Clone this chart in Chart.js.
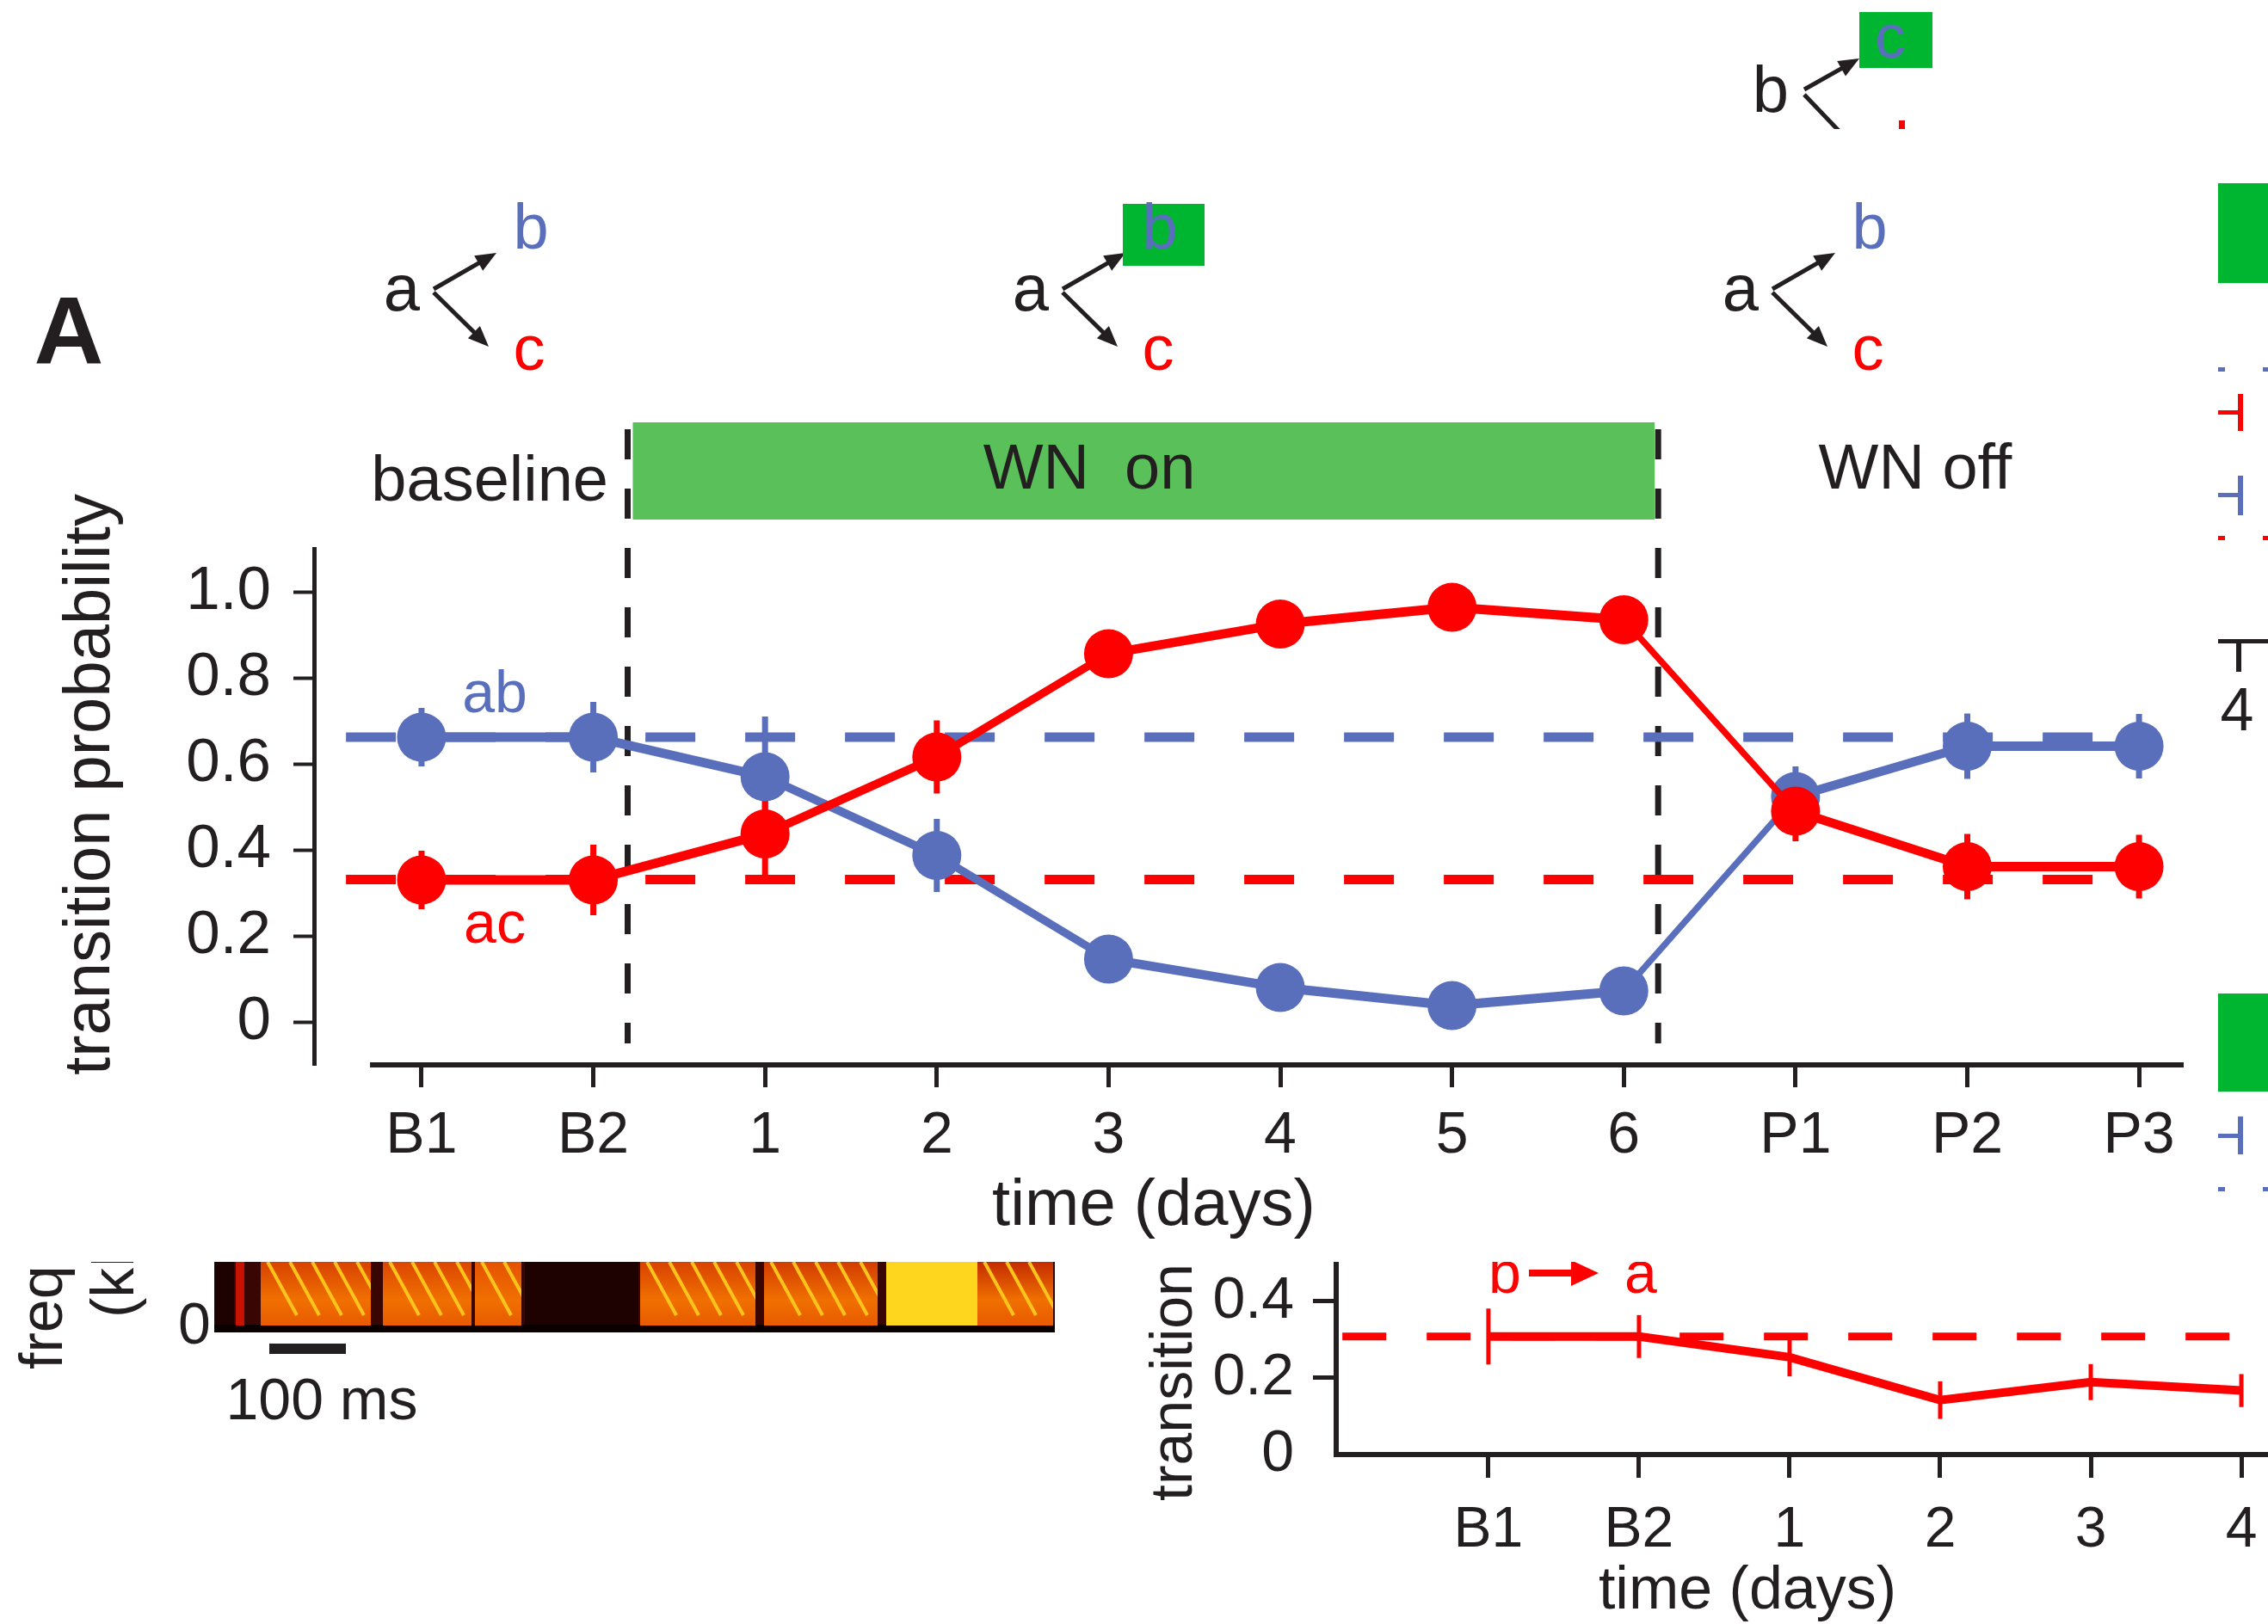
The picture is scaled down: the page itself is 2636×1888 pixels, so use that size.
<!DOCTYPE html>
<html>
<head>
<meta charset="utf-8">
<title>transition probability</title>
<script src="https://cdn.jsdelivr.net/npm/chart.js@4.4.1/dist/chart.umd.min.js"></script>
<style>
  html, body { margin: 0; padding: 0; background: #fff; }
  body { width: 2636px; height: 1888px; position: relative; overflow: hidden; }
  canvas { position: absolute; display: block; }
  #mainChart { left: 0; top: 0; }
  #songCanvas { left: 0; top: 1467px; }
  #smallWrap { position: absolute; left: 1200px; top: 1467px; width: 1436px; height: 421px; overflow: hidden; }
  #smallChart { left: 0; top: -167px; }
</style>
</head>
<body>
<canvas id="mainChart" width="2636" height="1460"></canvas>
<canvas id="songCanvas" width="1300" height="421"></canvas>
<div id="smallWrap"><canvas id="smallChart" width="1600" height="588"></canvas></div>
<script>
'use strict';

// panel A: a -> b / a -> c transition probabilities
const categories = ['B1', 'B2', '1', '2', '3', '4', '5', '6', 'P1', 'P2', 'P3'];
const abValues = [0.662, 0.662, 0.570, 0.387, 0.146, 0.080, 0.038, 0.072, 0.524, 0.641, 0.641];
const abErrors = [0.068, 0.082, 0.140, 0.085, 0.030, 0.030, 0.030, 0.030, 0.070, 0.076, 0.075];
const acValues = [0.330, 0.330, 0.437, 0.616, 0.856, 0.925, 0.964, 0.935, 0.490, 0.361, 0.361];
const acErrors = [0.068, 0.082, 0.110, 0.085, 0.030, 0.030, 0.030, 0.030, 0.070, 0.076, 0.074];
const abBaseline = 0.662;
const acBaseline = 0.331;
const baselineSpan = [-0.44, 9.93];
const yTicks = [0, 0.2, 0.4, 0.6, 0.8, 1.0];
const phaseBreaks = [1.2, 7.2];

// lower panel: b -> a
const smallCategories = ['B1', 'B2', '1', '2', '3', '4'];
const baValues = [0.308, 0.308, 0.254, 0.142, 0.189, 0.167];
const baErrors = [0.073, 0.056, 0.050, 0.049, 0.047, 0.043];
const baBaseline = 0.308;
const smallYTicks = [0, 0.2, 0.4];

const FONT = "'Liberation Sans', Arial, Helvetica, sans-serif";
const INK = '#231f20';
const BLUE = '#5a6fbc';
const RED = '#ff0000';
const GREEN_BAR = '#5ac15a';
const GREEN_BOX = '#00b530';

Chart.defaults.font.family = FONT;
Chart.defaults.color = INK;

const text = function(ctx, str, x, y, size, color, align, weight){
  ctx.font = (weight || 'normal') + ' ' + size + 'px ' + FONT;
  ctx.fillStyle = color || INK;
  ctx.textAlign = align || 'center';
  ctx.textBaseline = 'alphabetic';
  ctx.fillText(str, x, y);
};

const arrow = function(ctx, x0, y0, x1, y1, color, lw, head, half){
  color = color || INK; lw = lw || 5; head = head || 24; half = half || 10;
  const ang = Math.atan2(y1 - y0, x1 - x0);
  const c = Math.cos(ang), s = Math.sin(ang);
  ctx.save();
  ctx.strokeStyle = color;
  ctx.fillStyle = color;
  ctx.lineWidth = lw;
  ctx.beginPath();
  ctx.moveTo(x0, y0);
  ctx.lineTo(x1 - c * head * 0.8, y1 - s * head * 0.8);
  ctx.stroke();
  ctx.beginPath();
  ctx.moveTo(x1, y1);
  ctx.lineTo(x1 - head * c + half * s, y1 - head * s - half * c);
  ctx.lineTo(x1 - head * c - half * s, y1 - head * s + half * c);
  ctx.closePath();
  ctx.fill();
  ctx.restore();
};

const branch = function(ctx, ax, boxed){
  text(ctx, 'a', ax, 361, 76);
  arrow(ctx, ax + 37, 336, ax + 110, 294);
  arrow(ctx, ax + 37, 340, ax + 101, 403);
  if(boxed){
    ctx.fillStyle = GREEN_BOX;
    ctx.fillRect(ax + 107, 237, 95, 72);
  }
  text(ctx, 'b', ax + 150, 289, 74, BLUE);
  text(ctx, 'c', ax + 148, 430, 74, RED);
};

const drawErrors = function(chart, values, errors, color, width){
  const {ctx, scales: {x, y}} = chart;
  ctx.save();
  ctx.strokeStyle = color;
  ctx.lineWidth = width;
  values.forEach(function(v, i){
    const px = x.getPixelForValue(i);
    ctx.beginPath();
    ctx.moveTo(px, y.getPixelForValue(v - errors[i]));
    ctx.lineTo(px, y.getPixelForValue(v + errors[i]));
    ctx.stroke();
  });
  ctx.restore();
};

// thicker where the trace is flat, like the shaded sem band
// (199.6 px per day and 499.5 px per unit probability on this panel)
const segWidth = function(values){
  return function(ctx){
    const i0 = ctx.p0DataIndex, i1 = ctx.p1DataIndex;
    const dx = 199.6 * (i1 - i0);
    const dy = 499.5 * (values[i1] - values[i0]);
    return Math.max(6, 11 * Math.abs(dx) / Math.hypot(dx, dy));
  };
};

const panelA = {
  id: 'panelA',
  beforeDatasetsDraw(chart){
    const {ctx, scales: {x, y}} = chart;
    ctx.save();
    ctx.fillStyle = GREEN_BAR;
    const barL = x.getPixelForValue(1.23), barR = x.getPixelForValue(7.18);
    ctx.fillRect(barL, 491, barR - barL, 113);

    ctx.strokeStyle = INK;
    ctx.lineWidth = 7;
    ctx.setLineDash([35, 34]);
    phaseBreaks.forEach(function(b){
      const px = x.getPixelForValue(b);
      ctx.beginPath();
      ctx.moveTo(px, 499);
      ctx.lineTo(px, y.getPixelForValue(-0.05));
      ctx.stroke();
    });
    ctx.restore();

    drawErrors(chart, abValues, abErrors, BLUE, 7);
    drawErrors(chart, acValues, acErrors, RED, 7);
  },
  afterDraw(chart){
    const {ctx, chartArea, scales: {x}} = chart;

    // detached x axis line
    ctx.save();
    ctx.strokeStyle = INK;
    ctx.lineWidth = 6;
    ctx.beginPath();
    ctx.moveTo(x.getPixelForValue(-0.3), chartArea.bottom);
    ctx.lineTo(chartArea.right, chartArea.bottom);
    ctx.stroke();
    ctx.restore();

    text(ctx, 'baseline', 707, 582, 74, INK, 'right');
    text(ctx, 'WN  on', 1266, 568, 74);
    text(ctx, 'WN off', 2226, 568, 74);
    text(ctx, 'ab', 575, 828, 68, BLUE);
    text(ctx, 'ac', 575, 1096, 68, RED);
    text(ctx, 'time (days)', 1341, 1424, 76);

    ctx.save();
    ctx.translate(127, 912);
    ctx.rotate(-Math.PI / 2);
    text(ctx, 'transition probability', 0, 0, 76);
    ctx.restore();

    text(ctx, 'A', 80, 423, 112, INK, 'center', 'bold');

    branch(ctx, 467, false);
    branch(ctx, 1198, true);
    branch(ctx, 2023, false);

    // cropped diagram at the top
    ctx.save();
    ctx.beginPath();
    ctx.rect(1900, 0, 736, 150);
    ctx.clip();
    text(ctx, 'b', 2058, 130, 76);
    arrow(ctx, 2097, 104, 2161, 68);
    arrow(ctx, 2097, 110, 2161, 177);
    ctx.fillStyle = GREEN_BOX;
    ctx.fillRect(2161, 14, 85, 65);
    text(ctx, 'c', 2197, 67, 72, BLUE);
    ctx.fillStyle = RED;
    ctx.fillRect(2207, 140, 7, 12);
    ctx.restore();

    // cropped neighbour panel at the right edge
    ctx.save();
    ctx.fillStyle = GREEN_BOX;
    ctx.fillRect(2578, 213, 60, 116);
    ctx.fillRect(2578, 1155, 60, 114);
    ctx.fillStyle = BLUE;
    ctx.fillRect(2578, 427, 8, 5);
    ctx.fillRect(2630, 427, 6, 5);
    ctx.fillRect(2578, 573, 28, 5);
    ctx.fillRect(2601, 553, 6, 46);
    ctx.fillRect(2578, 1318, 28, 5);
    ctx.fillRect(2601, 1298, 6, 44);
    ctx.fillRect(2578, 1380, 8, 5);
    ctx.fillRect(2630, 1380, 6, 5);
    ctx.fillStyle = RED;
    ctx.fillRect(2578, 477, 28, 5);
    ctx.fillRect(2601, 458, 6, 43);
    ctx.fillRect(2578, 623, 8, 5);
    ctx.fillRect(2630, 623, 6, 5);
    ctx.fillStyle = INK;
    ctx.fillRect(2578, 743, 58, 5);
    ctx.fillRect(2599, 743, 6, 38);
    ctx.restore();
    text(ctx, '4', 2600, 849, 70);
  }
};

new Chart(document.getElementById('mainChart'), {
  type: 'line',
  data: {
    datasets: [
      {
        label: 'ac',
        data: categories.map((c, i) => ({x: i, y: acValues[i]})),
        borderColor: RED,
        backgroundColor: RED,
        borderWidth: 10,
        pointBackgroundColor: RED,
        pointBorderWidth: 0,
        pointRadius: 28.5,
        segment: {borderWidth: segWidth(acValues)},
        order: 1,
      },
      {
        label: 'ab',
        data: categories.map((c, i) => ({x: i, y: abValues[i]})),
        borderColor: BLUE,
        backgroundColor: BLUE,
        borderWidth: 10,
        pointBackgroundColor: BLUE,
        pointBorderWidth: 0,
        pointRadius: 28.5,
        segment: {borderWidth: segWidth(abValues)},
        order: 2,
      },
      {
        label: 'ac baseline',
        data: [{x: baselineSpan[0], y: acBaseline}, {x: baselineSpan[1], y: acBaseline}],
        borderColor: RED,
        borderWidth: 11,
        borderDash: [58, 58],
        borderCapStyle: 'butt',
        pointRadius: 0,
        order: 3,
      },
      {
        label: 'ab baseline',
        data: [{x: baselineSpan[0], y: abBaseline}, {x: baselineSpan[1], y: abBaseline}],
        borderColor: BLUE,
        borderWidth: 11,
        borderDash: [58, 58],
        borderCapStyle: 'butt',
        pointRadius: 0,
        order: 4,
      }
    ]
  },
  options: {
    responsive: false,
    animation: false,
    devicePixelRatio: 1,
    events: [],
    layout: {padding: {top: 638, left: 0, right: 98, bottom: 0}},
    plugins: {legend: {display: false}, tooltip: {enabled: false}},
    scales: {
      x: {
        type: 'linear',
        min: -0.626,
        max: 10.26,
        afterBuildTicks: (s) => { s.ticks = categories.map((c, i) => ({value: i})); },
        afterFit: (s) => { s.height = 222; },
        grid: {drawOnChartArea: false, tickLength: 26, tickWidth: 5, tickColor: INK},
        border: {display: false},
        ticks: {
          callback: (v) => categories[v],
          font: {size: 68},
          color: INK,
          padding: 16,
          maxRotation: 0,
          autoSkip: false,
        },
      },
      y: {
        min: -0.1,
        max: 1.1,
        afterBuildTicks: (s) => { s.ticks = yTicks.map((v) => ({value: v})); },
        afterFit: (s) => { s.width = 365; },
        grid: {drawOnChartArea: false, tickLength: 24, tickWidth: 4, tickColor: INK},
        border: {display: true, color: INK, width: 5},
        ticks: {
          callback: (v) => v === 0 ? '0' : v.toFixed(1),
          font: {size: 71},
          color: INK,
          padding: 26,
        },
      }
    }
  },
  plugins: [panelA]
});

// lower panel
const lowerPanel = {
  id: 'lowerPanel',
  beforeDatasetsDraw(chart){
    drawErrors(chart, baValues, baErrors, RED, 5);
  },
  afterDraw(chart){
    const ctx = chart.ctx;
    text(ctx, 'time (days)', 831, 570, 70);
    ctx.save();
    ctx.translate(185, 445);
    ctx.rotate(-Math.PI / 2);
    text(ctx, 'transition probability', 0, 0, 68, INK, 'left');
    ctx.restore();
    text(ctx, 'b', 530, 203, 68, RED, 'left');
    arrow(ctx, 577, 180, 658, 180, RED, 8, 32, 15);
    text(ctx, 'a', 688, 203, 68, RED, 'left');
  }
};

new Chart(document.getElementById('smallChart'), {
  type: 'line',
  data: {
    datasets: [
      {
        label: 'ba',
        data: smallCategories.map((c, i) => ({x: i, y: baValues[i]})),
        borderColor: RED,
        borderWidth: 10,
        pointRadius: 0,
        order: 1,
      },
      {
        label: 'ba baseline',
        data: [{x: -0.97, y: baBaseline}, {x: 6.2, y: baBaseline}],
        borderColor: RED,
        borderWidth: 9,
        borderDash: [51, 47],
        borderCapStyle: 'butt',
        pointRadius: 0,
        order: 2,
      }
    ]
  },
  options: {
    responsive: false,
    animation: false,
    devicePixelRatio: 1,
    events: [],
    layout: {padding: {top: 146, left: 0, right: 0, bottom: 0}},
    plugins: {legend: {display: false}, tooltip: {enabled: false}},
    scales: {
      x: {
        type: 'linear',
        min: -1.011,
        max: 6.114,
        afterBuildTicks: (s) => { s.ticks = smallCategories.map((c, i) => ({value: i})); },
        afterFit: (s) => { s.height = 197; },
        grid: {drawOnChartArea: false, tickLength: 27, tickWidth: 5, tickColor: INK},
        border: {display: true, color: INK, width: 6},
        ticks: {
          callback: (v) => smallCategories[v],
          font: {size: 66},
          color: INK,
          padding: 22,
          maxRotation: 0,
          autoSkip: false,
        },
      },
      y: {
        min: 0,
        max: 0.55,
        afterBuildTicks: (s) => { s.ticks = smallYTicks.map((v) => ({value: v})); },
        afterFit: (s) => { s.width = 353; },
        grid: {
          drawOnChartArea: false,
          tickLength: 27,
          tickWidth: 5,
          tickColor: (c) => (c.tick && c.tick.value === 0) ? 'rgba(0,0,0,0)' : INK,
        },
        border: {display: true, color: INK, width: 6},
        ticks: {
          callback: (v) => v === 0 ? '0' : v.toFixed(1),
          font: {size: 68},
          color: INK,
          padding: 22,
        },
      }
    }
  },
  plugins: [lowerPanel]
});

// song spectrogram strip (cropped at the top)
const drawSong = function(){
  const ctx = document.getElementById('songCanvas').getContext('2d');
  ctx.translate(0, -1467);
  const left = 249, right = 1226, top = 1467, bottom = 1541;

  ctx.fillStyle = '#3a0603';
  ctx.fillRect(left, top, right - left, bottom - top);
  // dark gaps between song motifs
  ctx.fillStyle = '#1e0202';
  ctx.fillRect(610, top, 132, bottom - top);
  ctx.fillRect(250, top, 22, bottom - top);
  ctx.fillStyle = '#0a0000';
  ctx.fillRect(left, bottom - 1, right - left, 9);

  const syllables = [
    [274, 284, '#c81200', 0],
    [303, 431, '#d84200', 5],
    [445, 548, '#dc4600', 4],
    [552, 606, '#e45200', 2],
    [744, 878, '#d84200', 5],
    [888, 1020, '#d23c00', 5],
    [1030, 1136, '#ffd61e', 0],
    [1136, 1224, '#c42c00', 3]
  ];
  syllables.forEach(function(syl){
    const g = ctx.createLinearGradient(0, top, 0, bottom);
    g.addColorStop(0, syl[2]);
    g.addColorStop(0.6, syl[3] ? '#f07000' : syl[2]);
    g.addColorStop(1, syl[3] ? '#e85a00' : syl[2]);
    ctx.fillStyle = g;
    ctx.fillRect(syl[0], top, syl[1] - syl[0], bottom - top);
    ctx.save();
    ctx.beginPath();
    ctx.rect(syl[0], top, syl[1] - syl[0], bottom - top);
    ctx.clip();
    ctx.strokeStyle = '#ffc41a';
    ctx.lineWidth = 4;
    for(let k = 0; k < syl[3]; k++){
      const sx = syl[0] + 8 + k * 26;
      ctx.beginPath();
      ctx.moveTo(sx, top);
      ctx.lineTo(sx + 34, bottom - 12);
      ctx.stroke();
    }
    ctx.restore();
  });

  ctx.save();
  ctx.translate(72, 1592);
  ctx.rotate(-Math.PI / 2);
  text(ctx, 'freq', 0, 0, 70, INK, 'left');
  ctx.restore();
  ctx.save();
  ctx.translate(155, 1532);
  ctx.rotate(-Math.PI / 2);
  text(ctx, '(kHz)', 0, 0, 70, INK, 'left');
  ctx.restore();

  text(ctx, '0', 226, 1562, 68);
  ctx.fillStyle = INK;
  ctx.fillRect(313, 1562, 89, 12);
  text(ctx, '100 ms', 374, 1650, 68);
};

drawSong();
</script>
</body>
</html>
